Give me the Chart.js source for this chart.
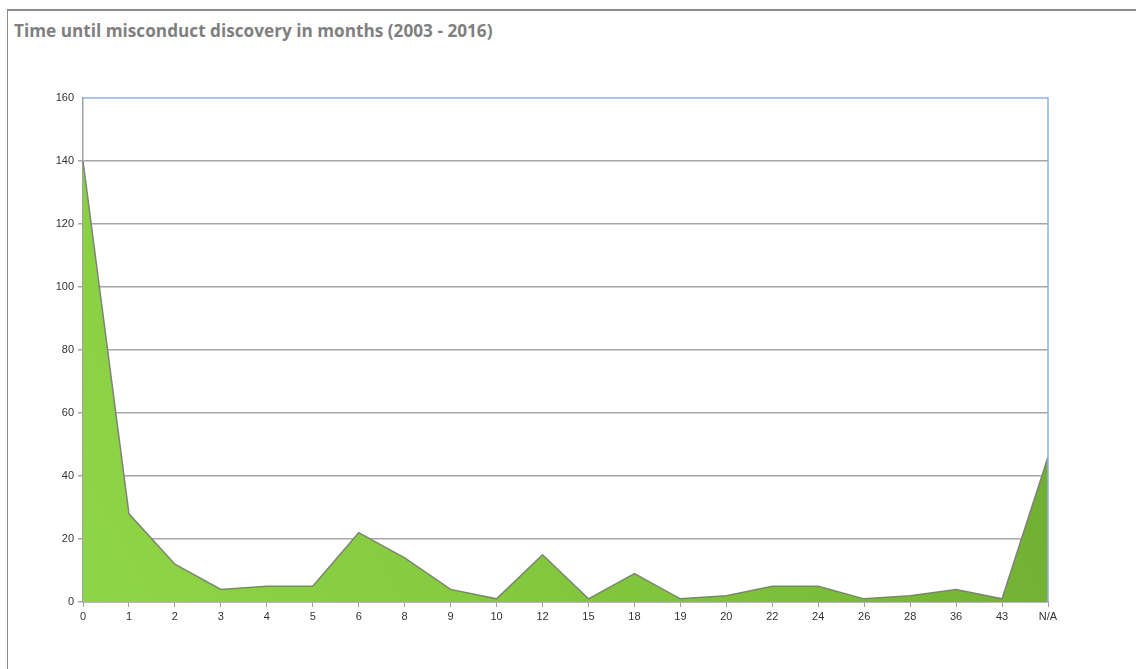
<!DOCTYPE html>
<html lang="en">
<head>
  <meta charset="UTF-8" />
  <title>Time until misconduct discovery</title>
  <script src="https://cdn.jsdelivr.net/npm/chart.js"></script>
  <style>
    * {
      margin: 0;
      padding: 0;
      box-sizing: border-box;
    }
    body {
      background: #fff;
      width: 1136px;
      height: 669px;
      overflow: hidden;
      position: relative;
    }
    .frame {
      position: absolute;
      left: 7px;
      top: 9px;
      width: 1200px;
      height: 700px;
      border-left: 1px solid #8c8c8c;
      border-top: 2px solid #8c8c8c;
    }
    .title {
      position: absolute;
      left: 14px;
      top: 19px;
      font-family: 'Open Sans', sans-serif;
      font-weight: 700;
      font-size: 17.2px;
      color: #7f7f7f;
      white-space: nowrap;
    }
    .chart-box {
      position: absolute;
      left: 0;
      top: 0;
      width: 1136px;
      height: 669px;
    }
  </style>
</head>
<body>
  <div class="frame"></div>
  <div class="title">Time until misconduct discovery in months (2003 - 2016)</div>
  <div class="chart-box">
    <canvas id="discoveryChart" width="1136" height="669"></canvas>
  </div>

  <script>
    // months until discovery (category labels)
    const months = ['0', '1', '2', '3', '4', '5', '6', '8', '9', '10', '12', '15', '18', '19', '20', '22', '24', '26', '28', '36', '43', 'N/A'];
    // number of cases
    const cases = [140, 28, 12, 4, 5, 5, 22, 14, 4, 1, 15, 1, 9, 1, 2, 5, 5, 1, 2, 4, 1, 46];
    const yTicks = [0, 20, 40, 60, 80, 100, 120, 140, 160];

    // top + right border of the plot in light blue
    const plotFrame = {
      id: 'plotFrame',
      afterDraw(chart) {
        const { ctx, chartArea } = chart;
        ctx.save();
        ctx.strokeStyle = '#8db3e2';
        ctx.lineWidth = 1.5;
        ctx.beginPath();
        ctx.moveTo(chartArea.left, chartArea.top);
        ctx.lineTo(chartArea.right, chartArea.top);
        ctx.lineTo(chartArea.right, chartArea.bottom);
        ctx.stroke();
        ctx.restore();
      }
    };

    function greenFill(context) {
      const area = context.chart.chartArea;
      if (!area) return '#7fc43c';
      const g = context.chart.ctx.createLinearGradient(area.left, area.bottom, area.right, area.top);
      g.addColorStop(0, '#8fd646');
      g.addColorStop(0.5, '#80c33c');
      g.addColorStop(1, '#6aa52e');
      return g;
    }

    const ctx = document.getElementById('discoveryChart').getContext('2d');
    new Chart(ctx, {
      type: 'line',
      data: {
        labels: months,
        datasets: [{
          data: cases,
          fill: 'origin',
          backgroundColor: greenFill,
          borderColor: '#808080',
          borderWidth: 1.5,
          pointRadius: 0,
          tension: 0
        }]
      },
      options: {
        responsive: false,
        animation: false,
        layout: {
          padding: { left: 0, right: 88, top: 98, bottom: 0 }
        },
        plugins: {
          legend: { display: false },
          tooltip: { enabled: false }
        },
        scales: {
          x: {
            offset: false,
            afterFit(scale) { scale.height = 67; },
            grid: {
              drawOnChartArea: false,
              drawTicks: true,
              tickLength: 5,
              color: '#a0a0a0'
            },
            border: { color: '#a0a0a0', width: 1.5 },
            ticks: {
              autoSkip: false,
              maxRotation: 0,
              padding: 3,
              color: '#333333',
              font: { family: 'Liberation Sans', size: 11 }
            }
          },
          y: {
            min: 0,
            max: 160,
            afterFit(scale) { scale.width = 83; },
            afterBuildTicks(scale) {
              scale.ticks = yTicks.map(v => ({ value: v }));
            },
            grid: {
              color: (c) => c.tick && c.tick.value === 160 ? 'rgba(0,0,0,0)' : '#a6a6a6',
              lineWidth: 1.5,
              tickLength: 5
            },
            border: { color: '#a0a0a0', width: 1.5 },
            ticks: {
              padding: 4,
              color: '#333333',
              font: { family: 'Liberation Sans', size: 11 }
            }
          }
        }
      },
      plugins: [plotFrame]
    });
  </script>
</body>
</html>
